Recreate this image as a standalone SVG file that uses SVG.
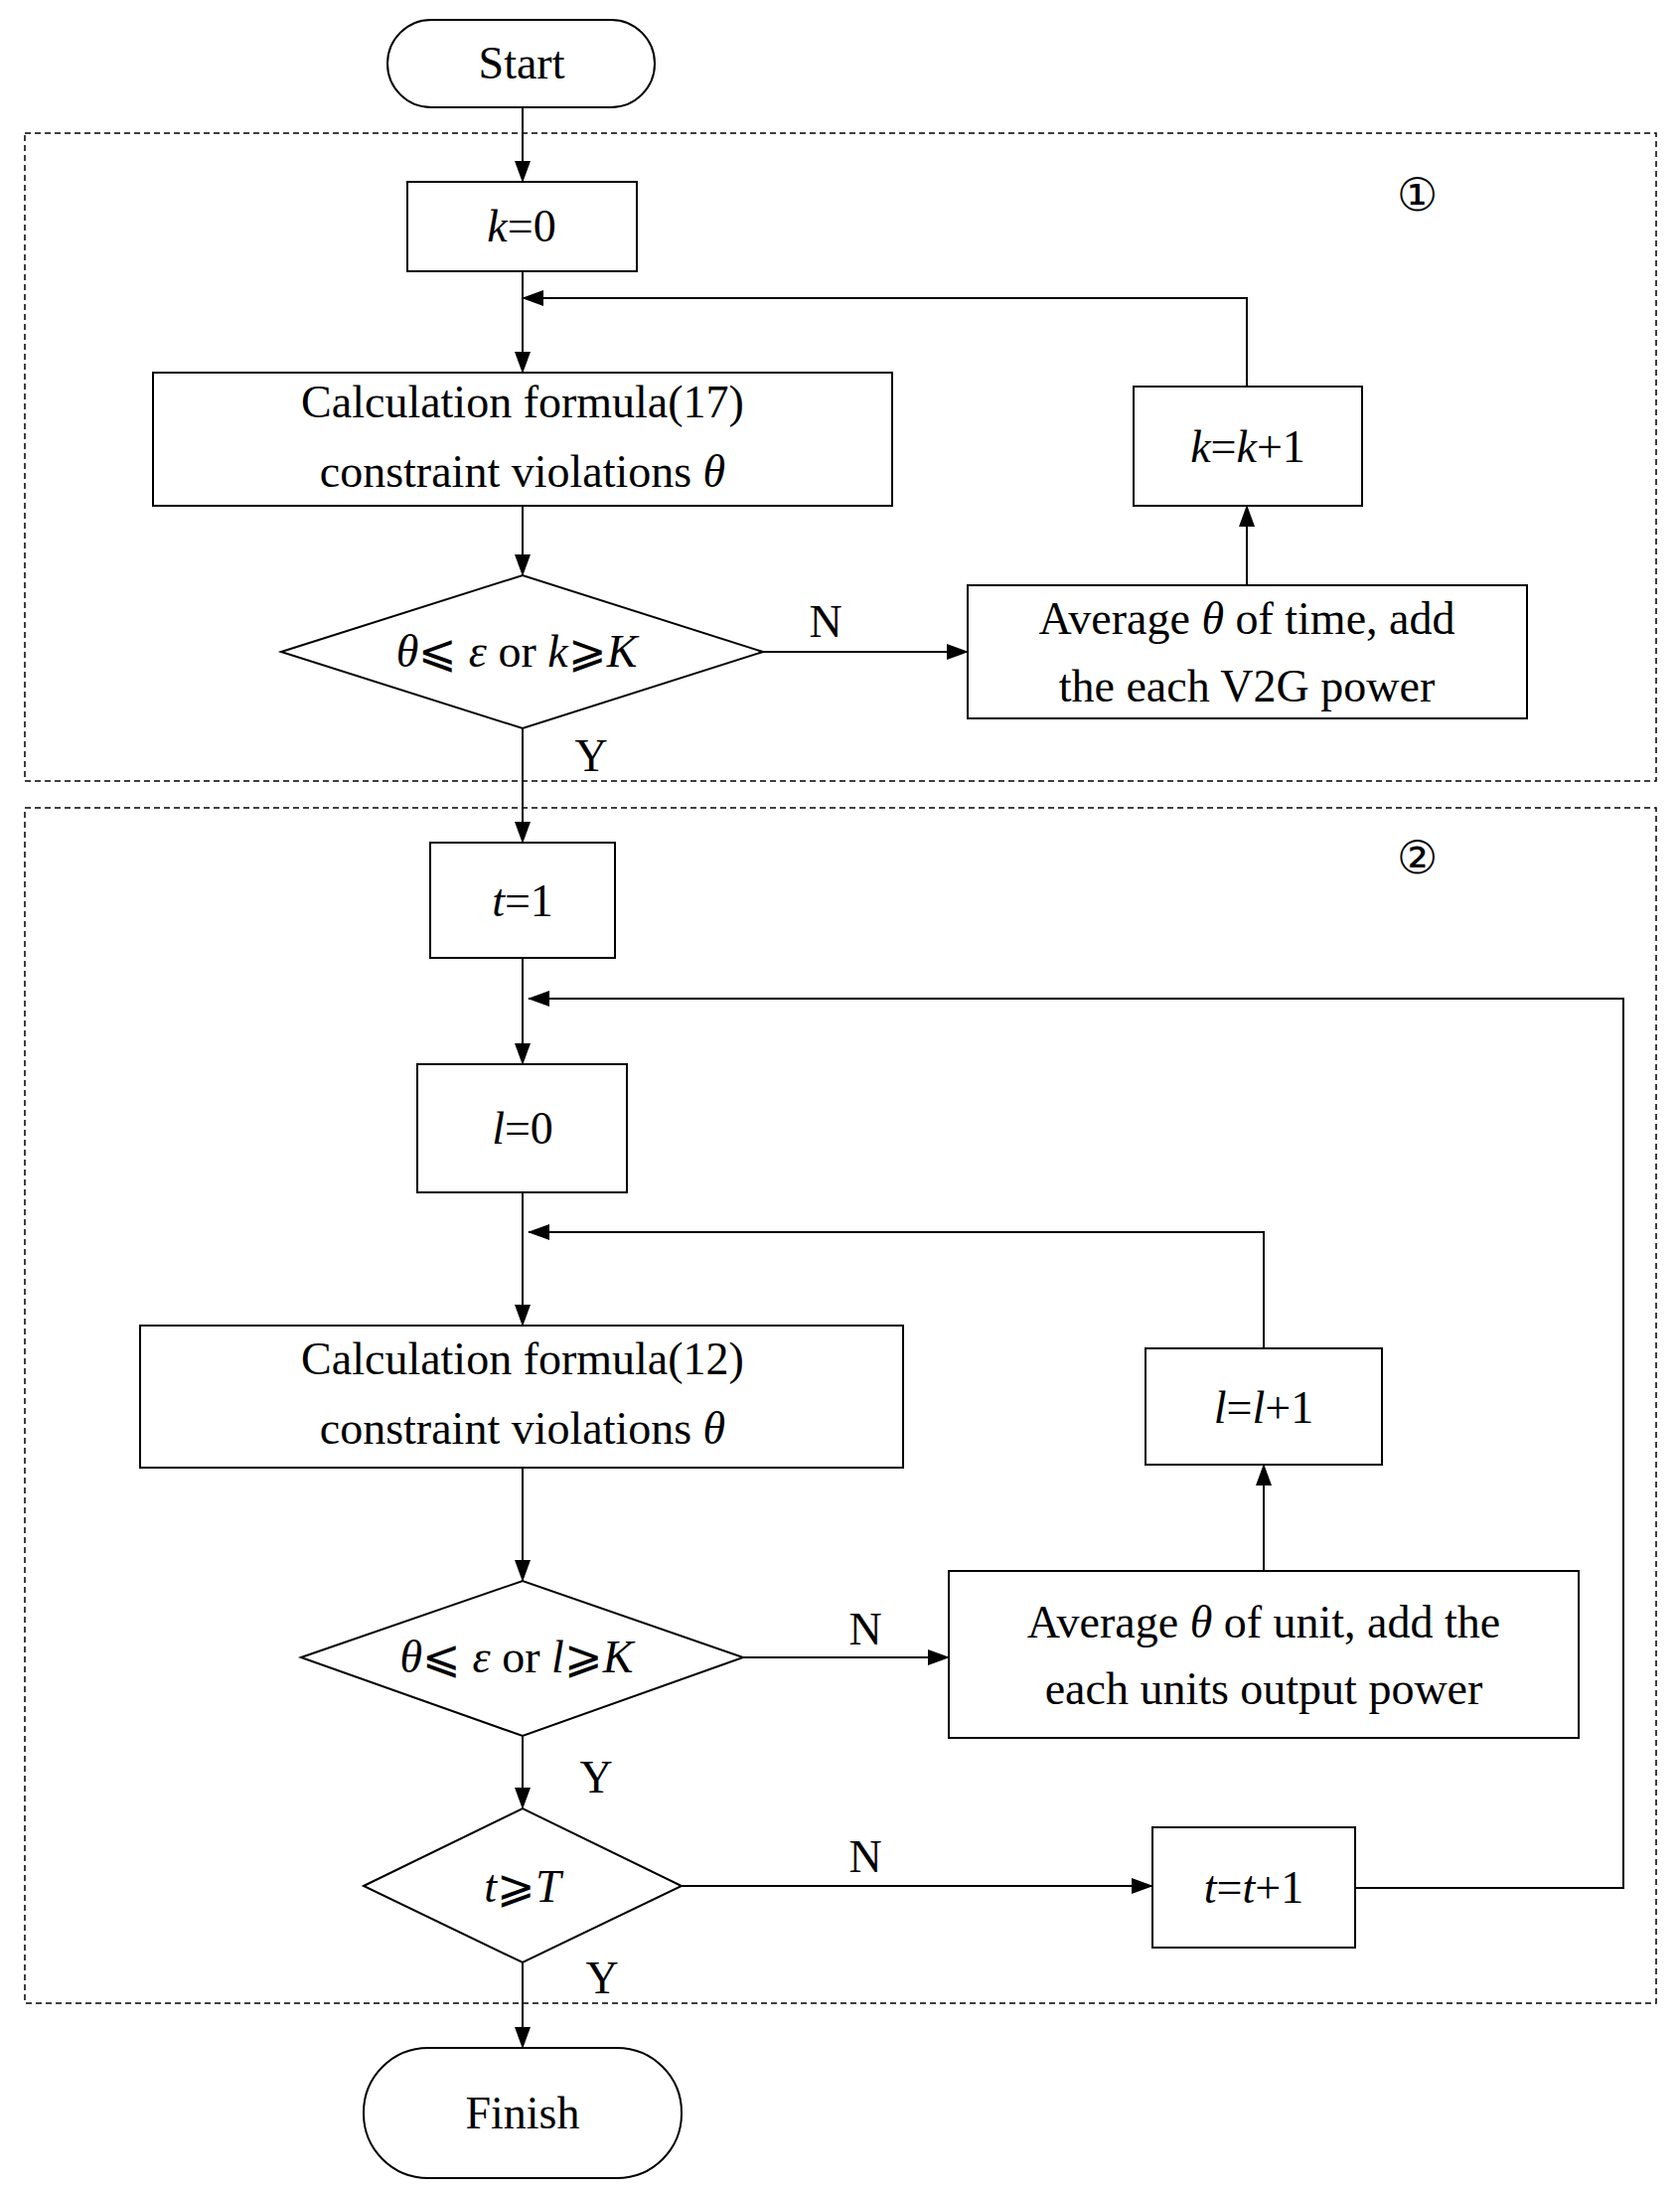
<svg xmlns="http://www.w3.org/2000/svg" width="1691" height="2205" viewBox="0 0 1691 2205">
<style>
.b{fill:#fff;stroke:#000;stroke-width:2}
.d{fill:none;stroke:#000;stroke-width:1.5;stroke-dasharray:6,4}
.c{fill:none;stroke:#000;stroke-width:2}
text{font-family:"Liberation Serif","Times New Roman",serif;font-size:46px;fill:#000;text-anchor:middle}
.i{font-style:italic}
</style>
<defs><marker id="a" markerWidth="22" markerHeight="16" refX="21" refY="8" orient="auto" markerUnits="userSpaceOnUse"><path d="M0,0L22,8L0,16z"/></marker></defs>
<rect width="1691" height="2205" fill="#fff"/>
<rect class="d" x="25" y="134" width="1642" height="652"/>
<rect class="d" x="25" y="813" width="1642" height="1203"/>
<text x="1426" y="212" font-size="42">①</text>
<text x="1426" y="879" font-size="42">②</text>
<g id="connectors" class="c">
<path d="M526,108V183" marker-end="url(#a)"/>
<path d="M526,273V375" marker-end="url(#a)"/>
<path d="M526,509V579" marker-end="url(#a)"/>
<path d="M768,656H974" marker-end="url(#a)"/>
<path d="M1255,589V509" marker-end="url(#a)"/>
<path d="M1255,389V300H526" marker-end="url(#a)"/>
<path d="M526,733V848" marker-end="url(#a)"/>
<path d="M526,964V1071" marker-end="url(#a)"/>
<path d="M1364,1900H1634V1005H532" marker-end="url(#a)"/>
<path d="M526,1200V1334" marker-end="url(#a)"/>
<path d="M1272,1357V1240H532" marker-end="url(#a)"/>
<path d="M526,1477V1591" marker-end="url(#a)"/>
<path d="M748,1668H955" marker-end="url(#a)"/>
<path d="M1272,1581V1474" marker-end="url(#a)"/>
<path d="M526,1747V1820" marker-end="url(#a)"/>
<path d="M686,1898H1160" marker-end="url(#a)"/>
<path d="M526,1975V2061" marker-end="url(#a)"/>
</g>
<text x="831" y="641">N</text><text x="595" y="776">Y</text>
<text x="871" y="1655">N</text><text x="600" y="1804">Y</text>
<text x="871" y="1884">N</text><text x="606" y="2006">Y</text>
<g id="start"><rect class="b" x="390" y="20" width="269" height="88" rx="44"/><text x="525" y="79">Start</text></g>
<g id="k0"><rect class="b" x="410" y="183" width="231" height="90"/><text x="525" y="243"><tspan class="i">k</tspan>=0</text></g>
<g id="calc1"><rect class="b" x="154" y="375" width="744" height="134"/><text x="526" y="420">Calculation formula(17)</text><text x="526" y="490">constraint violations  <tspan class="i">θ</tspan></text></g>
<g id="dec1"><path class="b" d="M283,656L526,579L768,656L526,733z"/><text x="520" y="671"><tspan class="i">θ</tspan>⩽ <tspan class="i">ε</tspan> or <tspan class="i">k</tspan>⩾<tspan class="i">K</tspan></text></g>
<g id="avg1"><rect class="b" x="974" y="589" width="563" height="134"/><text x="1255" y="638">Average  <tspan class="i">θ</tspan> of time, add</text><text x="1255" y="706">the each V2G power</text></g>
<g id="kk1"><rect class="b" x="1141" y="389" width="230" height="120"/><text x="1256" y="465"><tspan class="i">k</tspan>=<tspan class="i">k</tspan>+1</text></g>
<g id="t1"><rect class="b" x="433" y="848" width="186" height="116"/><text x="526" y="922"><tspan class="i">t</tspan>=1</text></g>
<g id="l0"><rect class="b" x="420" y="1071" width="211" height="129"/><text x="526" y="1151"><tspan class="i">l</tspan>=0</text></g>
<g id="calc2"><rect class="b" x="141" y="1334" width="768" height="143"/><text x="526" y="1383">Calculation formula(12)</text><text x="526" y="1453">constraint violations  <tspan class="i">θ</tspan></text></g>
<g id="ll1"><rect class="b" x="1153" y="1357" width="238" height="117"/><text x="1272" y="1432"><tspan class="i">l</tspan>=<tspan class="i">l</tspan>+1</text></g>
<g id="dec2"><path class="b" d="M303,1668L526,1591L748,1668L526,1747z"/><text x="520" y="1683"><tspan class="i">θ</tspan>⩽ <tspan class="i">ε</tspan> or <tspan class="i">l</tspan>⩾<tspan class="i">K</tspan></text></g>
<g id="avg2"><rect class="b" x="955" y="1581" width="634" height="168"/><text x="1272" y="1648">Average  <tspan class="i">θ</tspan> of unit, add the</text><text x="1272" y="1715">each units output power</text></g>
<g id="dec3"><path class="b" d="M366,1898L526,1820L686,1898L526,1975z"/><text x="526" y="1914"><tspan class="i">t</tspan>⩾<tspan class="i">T</tspan></text></g>
<g id="tt1"><rect class="b" x="1160" y="1839" width="204" height="121"/><text x="1262" y="1915"><tspan class="i">t</tspan>=<tspan class="i">t</tspan>+1</text></g>
<g id="finish"><rect class="b" x="366" y="2061" width="320" height="131" rx="65"/><text x="526" y="2142">Finish</text></g>
</svg>
